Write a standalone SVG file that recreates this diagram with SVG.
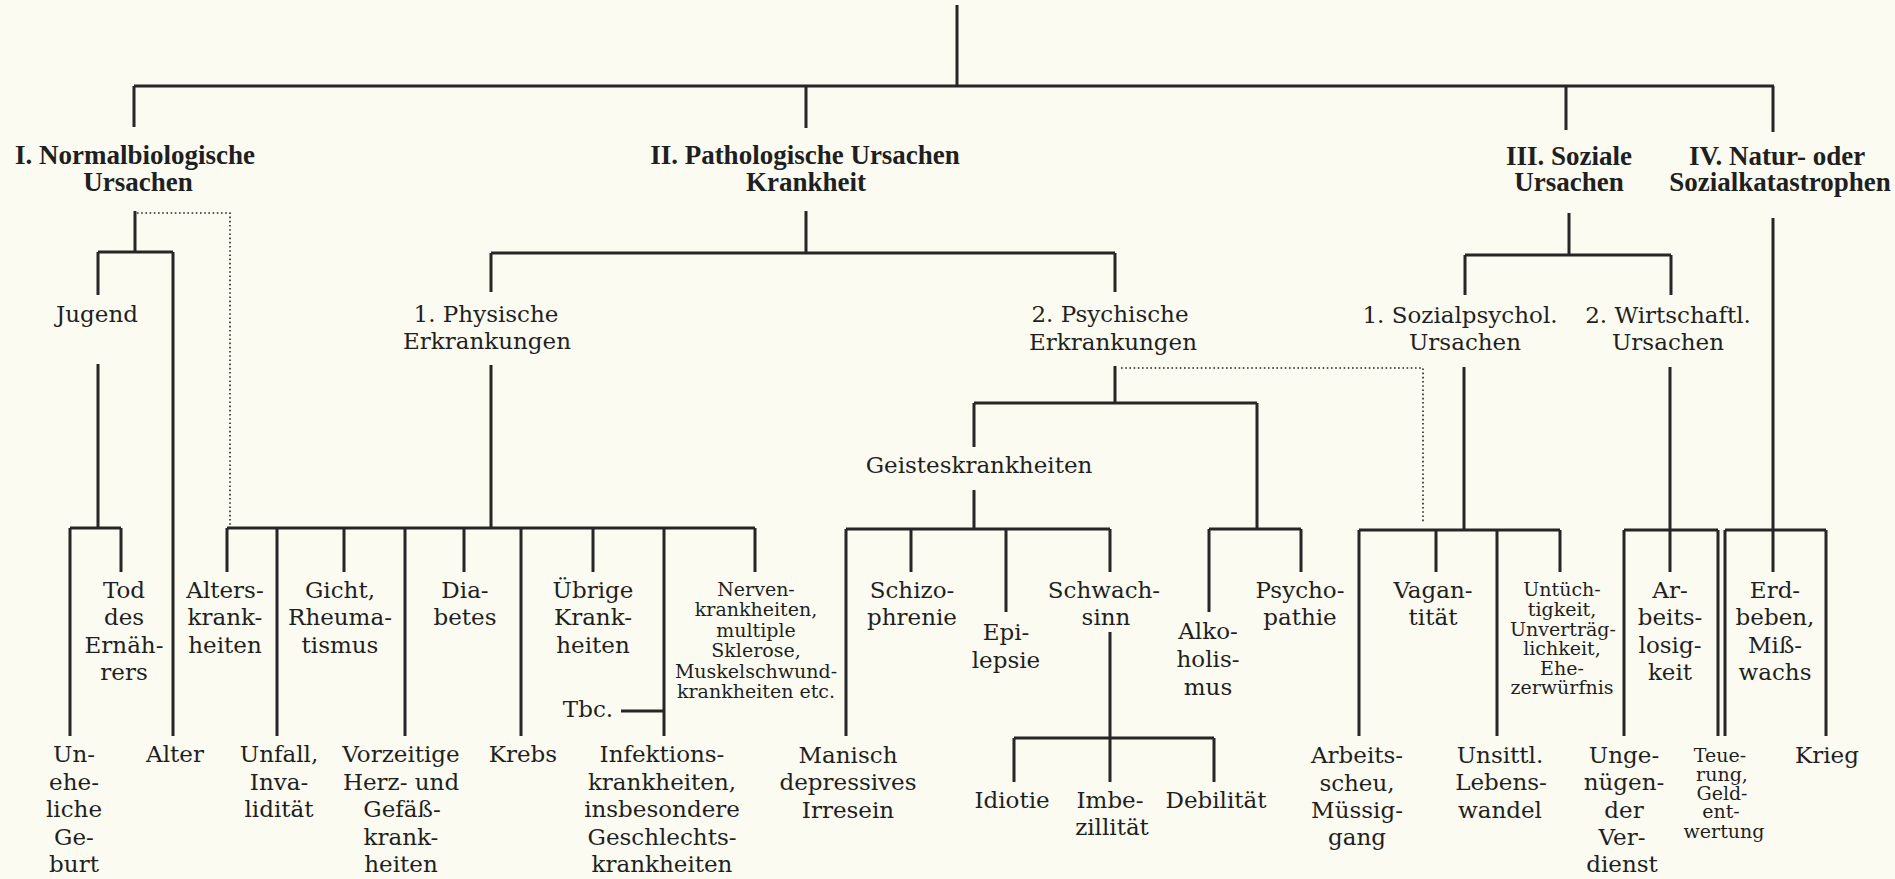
<svg xmlns="http://www.w3.org/2000/svg" width="1895" height="879" viewBox="0 0 1895 879">
<style>
.bg{fill:#fbfbf1}
.c path{fill:none;stroke:#262626;stroke-width:3}
.c path.d{stroke-width:1.6;stroke-dasharray:1.6 2.6}
text{fill:#1f1f1f;text-anchor:middle}
.h{font-family:"Liberation Serif","Times New Roman",serif;font-weight:bold;font-size:27px}
.t{font-family:"DejaVu Serif","Liberation Serif",serif;font-size:23px}
.s{font-family:"DejaVu Serif","Liberation Serif",serif;font-size:19px}
</style>
<rect class="bg" x="0" y="0" width="1895" height="879"/>
<g id="connectors" class="c">
<path d="M957 5V86M134 86H1774M134 86V127M806 86V128M1566 86V130M1773 86V132"/>
<path d="M135 211V252M98 252H173M98 252V295M173 252V736"/>
<path class="d" d="M137 213H230V527"/>
<path d="M98 364V528M70 528H121M70 528V736M121 528V572"/>
<path d="M806 211V253M491 253H1115M491 253V292M1115 253V292"/>
<path d="M491 365V528M227 528H755M227 528V572M277 528V736M344 528V572M405 528V736M464 528V572M521 528V736M593 528V572M664 528V736M755 528V572"/>
<path d="M621 711H664"/>
<path d="M1115 366V403M974 403H1257M974 403V447M1257 403V529"/>
<path class="d" d="M1121 368H1423V523"/>
<path d="M974 490V529M846 529H1110M846 529V736M911 529V572M1006 529V612M1110 529V572"/>
<path d="M1110 632V738M1014 738H1214M1014 738V782M1110 738V782M1214 738V782"/>
<path d="M1209 529H1301M1209 529V612M1301 529V572"/>
<path d="M1569 213V255M1465 255H1671M1465 255V295M1671 255V295"/>
<path d="M1464 367V530M1359 530H1560M1359 530V736M1436 530V572M1497 530V736M1560 530V572"/>
<path d="M1670 367V530M1624 530H1718M1624 530V736M1670 530V572M1718 530V736"/>
<path d="M1773 218V530M1725 530H1826M1725 530V736M1773 530V572M1826 530V736"/>
</g>
<g id="n-I"><text class="h"><tspan x="135" y="164">I. Normalbiologische</tspan><tspan x="138" y="191">Ursachen</tspan></text></g>
<g id="n-II"><text class="h"><tspan x="805" y="164">II. Pathologische  Ursachen</tspan><tspan x="806" y="191">Krankheit</tspan></text></g>
<g id="n-III"><text class="h"><tspan x="1569" y="165">III. Soziale</tspan><tspan x="1569" y="191">Ursachen</tspan></text></g>
<g id="n-IV"><text class="h"><tspan x="1777" y="165">IV. Natur- oder</tspan><tspan x="1780" y="191">Sozialkatastrophen</tspan></text></g>
<g id="n-jugend"><text class="t" x="97" y="322">Jugend</text></g>
<g id="n-physisch"><text class="t"><tspan x="486" y="322">1. Physische</tspan><tspan x="487" y="349">Erkrankungen</tspan></text></g>
<g id="n-psychisch"><text class="t"><tspan x="1110" y="322">2. Psychische</tspan><tspan x="1113" y="350">Erkrankungen</tspan></text></g>
<g id="n-sozialpsych"><text class="t"><tspan x="1460" y="323">1. Sozialpsychol.</tspan><tspan x="1465" y="350">Ursachen</tspan></text></g>
<g id="n-wirtschaft"><text class="t"><tspan x="1668" y="323">2. Wirtschaftl.</tspan><tspan x="1668" y="350">Ursachen</tspan></text></g>
<g id="n-geistes"><text class="t" x="979" y="473">Geisteskrankheiten</text></g>
<g id="n-tod"><text class="t"><tspan x="124" y="598">Tod</tspan><tspan x="124" y="625">des</tspan><tspan x="124" y="653">Ernäh-</tspan><tspan x="124" y="680">rers</tspan></text></g>
<g id="n-alterskrank"><text class="t"><tspan x="225" y="598">Alters-</tspan><tspan x="225" y="625">krank-</tspan><tspan x="225" y="653">heiten</tspan></text></g>
<g id="n-gicht"><text class="t"><tspan x="340" y="598">Gicht,</tspan><tspan x="340" y="625">Rheuma-</tspan><tspan x="340" y="653">tismus</tspan></text></g>
<g id="n-diabetes"><text class="t"><tspan x="465" y="598">Dia-</tspan><tspan x="465" y="625">betes</tspan></text></g>
<g id="n-uebrige"><text class="t"><tspan x="593" y="598">Übrige</tspan><tspan x="593" y="625">Krank-</tspan><tspan x="593" y="653">heiten</tspan></text></g>
<g id="n-tbc"><text class="t" x="588" y="717">Tbc.</text></g>
<g id="n-nerven"><text class="s"><tspan x="756" y="596">Nerven-</tspan><tspan x="756" y="616">krankheiten,</tspan><tspan x="756" y="637">multiple</tspan><tspan x="756" y="657">Sklerose,</tspan><tspan x="756" y="678">Muskelschwund-</tspan><tspan x="756" y="698">krankheiten etc.</tspan></text></g>
<g id="n-schizo"><text class="t"><tspan x="912" y="598">Schizo-</tspan><tspan x="912" y="625">phrenie</tspan></text></g>
<g id="n-epilepsie"><text class="t"><tspan x="1006" y="640">Epi-</tspan><tspan x="1006" y="668">lepsie</tspan></text></g>
<g id="n-schwachsinn"><text class="t"><tspan x="1104" y="598">Schwach-</tspan><tspan x="1106" y="625">sinn</tspan></text></g>
<g id="n-alkohol"><text class="t"><tspan x="1208" y="639">Alko-</tspan><tspan x="1208" y="667">holis-</tspan><tspan x="1208" y="695">mus</tspan></text></g>
<g id="n-psychopathie"><text class="t"><tspan x="1300" y="598">Psycho-</tspan><tspan x="1300" y="625">pathie</tspan></text></g>
<g id="n-vagant"><text class="t"><tspan x="1433" y="598">Vagan-</tspan><tspan x="1433" y="625">tität</tspan></text></g>
<g id="n-untuecht"><text class="s"><tspan x="1562" y="596">Untüch-</tspan><tspan x="1562" y="616">tigkeit,</tspan><tspan x="1563" y="636">Unverträg-</tspan><tspan x="1562" y="655">lichkeit,</tspan><tspan x="1562" y="675">Ehe-</tspan><tspan x="1562" y="694">zerwürfnis</tspan></text></g>
<g id="n-arbeitslos"><text class="t"><tspan x="1670" y="598">Ar-</tspan><tspan x="1670" y="625">beits-</tspan><tspan x="1670" y="653">losig-</tspan><tspan x="1670" y="680">keit</tspan></text></g>
<g id="n-erdbeben"><text class="t"><tspan x="1775" y="598">Erd-</tspan><tspan x="1775" y="625">beben,</tspan><tspan x="1775" y="653">Miß-</tspan><tspan x="1775" y="680">wachs</tspan></text></g>
<g id="n-unehelich"><text class="t"><tspan x="74" y="762">Un-</tspan><tspan x="74" y="790">ehe-</tspan><tspan x="74" y="817">liche</tspan><tspan x="74" y="845">Ge-</tspan><tspan x="74" y="872">burt</tspan></text></g>
<g id="n-alter"><text class="t" x="175" y="762">Alter</text></g>
<g id="n-unfall"><text class="t"><tspan x="279" y="762">Unfall,</tspan><tspan x="279" y="790">Inva-</tspan><tspan x="279" y="817">lidität</tspan></text></g>
<g id="n-herz"><text class="t"><tspan x="401" y="762">Vorzeitige</tspan><tspan x="401" y="790">Herz- und</tspan><tspan x="402" y="817">Gefäß-</tspan><tspan x="401" y="845">krank-</tspan><tspan x="401" y="872">heiten</tspan></text></g>
<g id="n-krebs"><text class="t" x="523" y="762">Krebs</text></g>
<g id="n-infektion"><text class="t"><tspan x="662" y="762">Infektions-</tspan><tspan x="662" y="790">krankheiten,</tspan><tspan x="662" y="817">insbesondere</tspan><tspan x="662" y="845">Geschlechts-</tspan><tspan x="662" y="872">krankheiten</tspan></text></g>
<g id="n-manisch"><text class="t"><tspan x="848" y="763">Manisch</tspan><tspan x="848" y="790">depressives</tspan><tspan x="848" y="818">Irresein</tspan></text></g>
<g id="n-idiotie"><text class="t" x="1012" y="808">Idiotie</text></g>
<g id="n-imbezill"><text class="t"><tspan x="1110" y="808">Imbe-</tspan><tspan x="1112" y="835">zillität</tspan></text></g>
<g id="n-debil"><text class="t" x="1216" y="808">Debilität</text></g>
<g id="n-arbeitsscheu"><text class="t"><tspan x="1357" y="763">Arbeits-</tspan><tspan x="1357" y="791">scheu,</tspan><tspan x="1357" y="818">Müssig-</tspan><tspan x="1357" y="845">gang</tspan></text></g>
<g id="n-unsittl"><text class="t"><tspan x="1500" y="763">Unsittl.</tspan><tspan x="1501" y="790">Lebens-</tspan><tspan x="1500" y="818">wandel</tspan></text></g>
<g id="n-verdienst"><text class="t"><tspan x="1624" y="763">Unge-</tspan><tspan x="1624" y="790">nügen-</tspan><tspan x="1624" y="818">der</tspan><tspan x="1622" y="845">Ver-</tspan><tspan x="1622" y="872">dienst</tspan></text></g>
<g id="n-teuerung"><text class="s"><tspan x="1720" y="762">Teue-</tspan><tspan x="1722" y="781">rung,</tspan><tspan x="1722" y="800">Geld-</tspan><tspan x="1721" y="818">ent-</tspan><tspan x="1724" y="838">wertung</tspan></text></g>
<g id="n-krieg"><text class="t" x="1827" y="763">Krieg</text></g>
</svg>
